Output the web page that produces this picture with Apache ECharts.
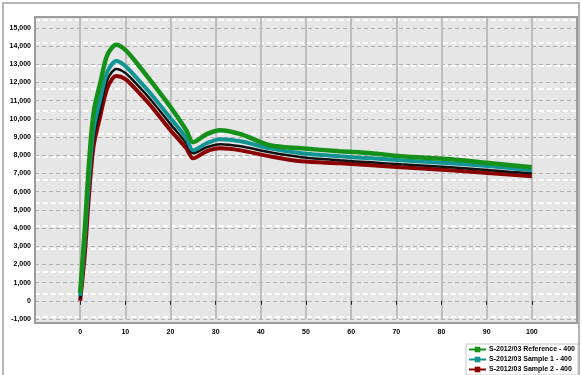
<!DOCTYPE html>
<html>
<head>
<meta charset="utf-8">
<script src="https://cdn.jsdelivr.net/npm/echarts@6/dist/echarts.min.js"></script>
<style>
  html, body { margin: 0; padding: 0; background: #fff; }
  #chart { width: 582px; height: 375px; }
</style>
</head>
<body>
<div id="chart"></div>
<script>
// series names shown in the legend (the black curve has no legend entry)
const seriesNames = ['S-2012/03 Reference - 400', 'S-2012/03 Sample 1 - 400', 'S-2012/03 Sample 2 - 400'];

// shared x positions of the samples
const xValues = [0, 1, 2, 3, 4.5, 6, 8, 10, 12.5, 15.5, 20, 23.5, 25, 28, 31, 35.5, 42, 49, 57.5, 64.5, 71, 82, 91, 100];

const greenValues = [440, 3860, 7720, 10370, 12020, 13510, 14070, 13790, 13070, 12130, 10650, 9380, 8720, 9160, 9380, 9160, 8550, 8380, 8220, 8110, 7940, 7780, 7560, 7340];
const tealValues  = [280, 3310, 6900, 9490, 11140, 12580, 13180, 12910, 12250, 11420, 10040, 8940, 8270, 8660, 8880, 8770, 8380, 8110, 7940, 7830, 7720, 7560, 7390, 7170];
const blackValues = [110, 2870, 6340, 8940, 10590, 12140, 12740, 12520, 11910, 11090, 9710, 8660, 8110, 8440, 8610, 8490, 8160, 7890, 7720, 7610, 7500, 7340, 7170, 7010];
const redValues   = [0, 2480, 5960, 8550, 10200, 11690, 12360, 12190, 11580, 10760, 9380, 8380, 7830, 8220, 8380, 8270, 7940, 7670, 7560, 7450, 7340, 7170, 7010, 6840];

// axis ranges / tick steps
const xMin = -10, xMax = 110, xStep = 10;
const yMin = -1000, yMax = 15600, yStep = 1000;

const pairs = (vals) => xValues.map((x, i) => [x, vals[i]]);

const chart = echarts.init(document.getElementById('chart'), null, { renderer: 'canvas' });

const labelFont = { color: '#000', fontSize: 7, fontWeight: 'bold', fontFamily: 'Liberation Sans' };

const lineSeries = (name, vals, color, width, z) => ({
  name,
  type: 'line',
  data: pairs(vals),
  smooth: 0.3,
  symbol: 'rect',
  symbolSize: 5,
  showSymbol: false,
  lineStyle: { color, width },
  itemStyle: { color },
  z,
  xAxisIndex: 0,
  yAxisIndex: 0,
});

const option = {
  animation: false,
  backgroundColor: '#fff',
  grid: [
    { left: 35, right: 5, top: 17, bottom: 56, containLabel: false },
    { left: 35, right: 5, top: 19.8, bottom: 58, containLabel: false },
  ],
  graphic: [
    { type: 'rect', shape: { x: 3, y: 3, width: 576, height: 380 }, style: { fill: 'none', stroke: '#b4b4b4', lineWidth: 2 }, z: -5 },
    { type: 'rect', shape: { x: 35, y: 17, width: 542, height: 306 }, style: { fill: '#e6e6e6' }, z: -5 },
    { type: 'rect', shape: { x: 35, y: 17, width: 542, height: 306 }, style: { fill: 'none', stroke: '#9c9c9c', lineWidth: 2 }, z: 50 },
  ],
  legend: {
    data: seriesNames,
    orient: 'vertical',
    left: 466,
    top: 344,
    itemGap: 3,
    itemWidth: 17,
    itemHeight: 7,
    padding: [2, 3, 2, 2],
    backgroundColor: '#fff',
    borderColor: '#c8c8c8',
    borderWidth: 1,
    textStyle: { ...labelFont, fontSize: 7, padding: [0, 0, 0, -2] },
  },
  xAxis: [
    {
      type: 'value',
      gridIndex: 0,
      min: xMin,
      max: xMax,
      interval: xStep,
      offset: 4,
      axisLine: { show: false },
      axisTick: { show: true, length: 4, lineStyle: { color: '#222' } },
      axisLabel: { ...labelFont, margin: 6, showMinLabel: false, showMaxLabel: false },
      splitLine: { show: true, lineStyle: { color: '#bdbdbd', width: 2 } },
    },
    { type: 'value', gridIndex: 1, show: false, min: 0, max: 1 },
  ],
  yAxis: [
    {
      type: 'value',
      gridIndex: 0,
      min: yMin,
      max: yMax,
      interval: yStep,
      axisLine: { show: false },
      axisTick: { show: false },
      axisLabel: { ...labelFont, margin: 4, showMaxLabel: false },
      splitLine: { show: true, lineStyle: { color: '#b0b0b0', width: 1, type: [4, 3] } },
    },
    {
      type: 'value',
      gridIndex: 1,
      min: 0,
      max: 13,
      interval: 1,
      axisLine: { show: false },
      axisTick: { show: false },
      axisLabel: { show: false },
      splitLine: { show: true, lineStyle: { color: '#ffffff', width: 2, type: [5, 3] } },
    },
  ],
  series: [
    lineSeries(seriesNames[2], redValues, '#8b0000', 4, 3),
    lineSeries('', blackValues, '#111111', 2.5, 4),
    lineSeries(seriesNames[1], tealValues, '#129494', 4, 5),
    lineSeries(seriesNames[0], greenValues, '#15911a', 4.5, 6),
  ],
};

chart.setOption(option);
</script>
</body>
</html>
